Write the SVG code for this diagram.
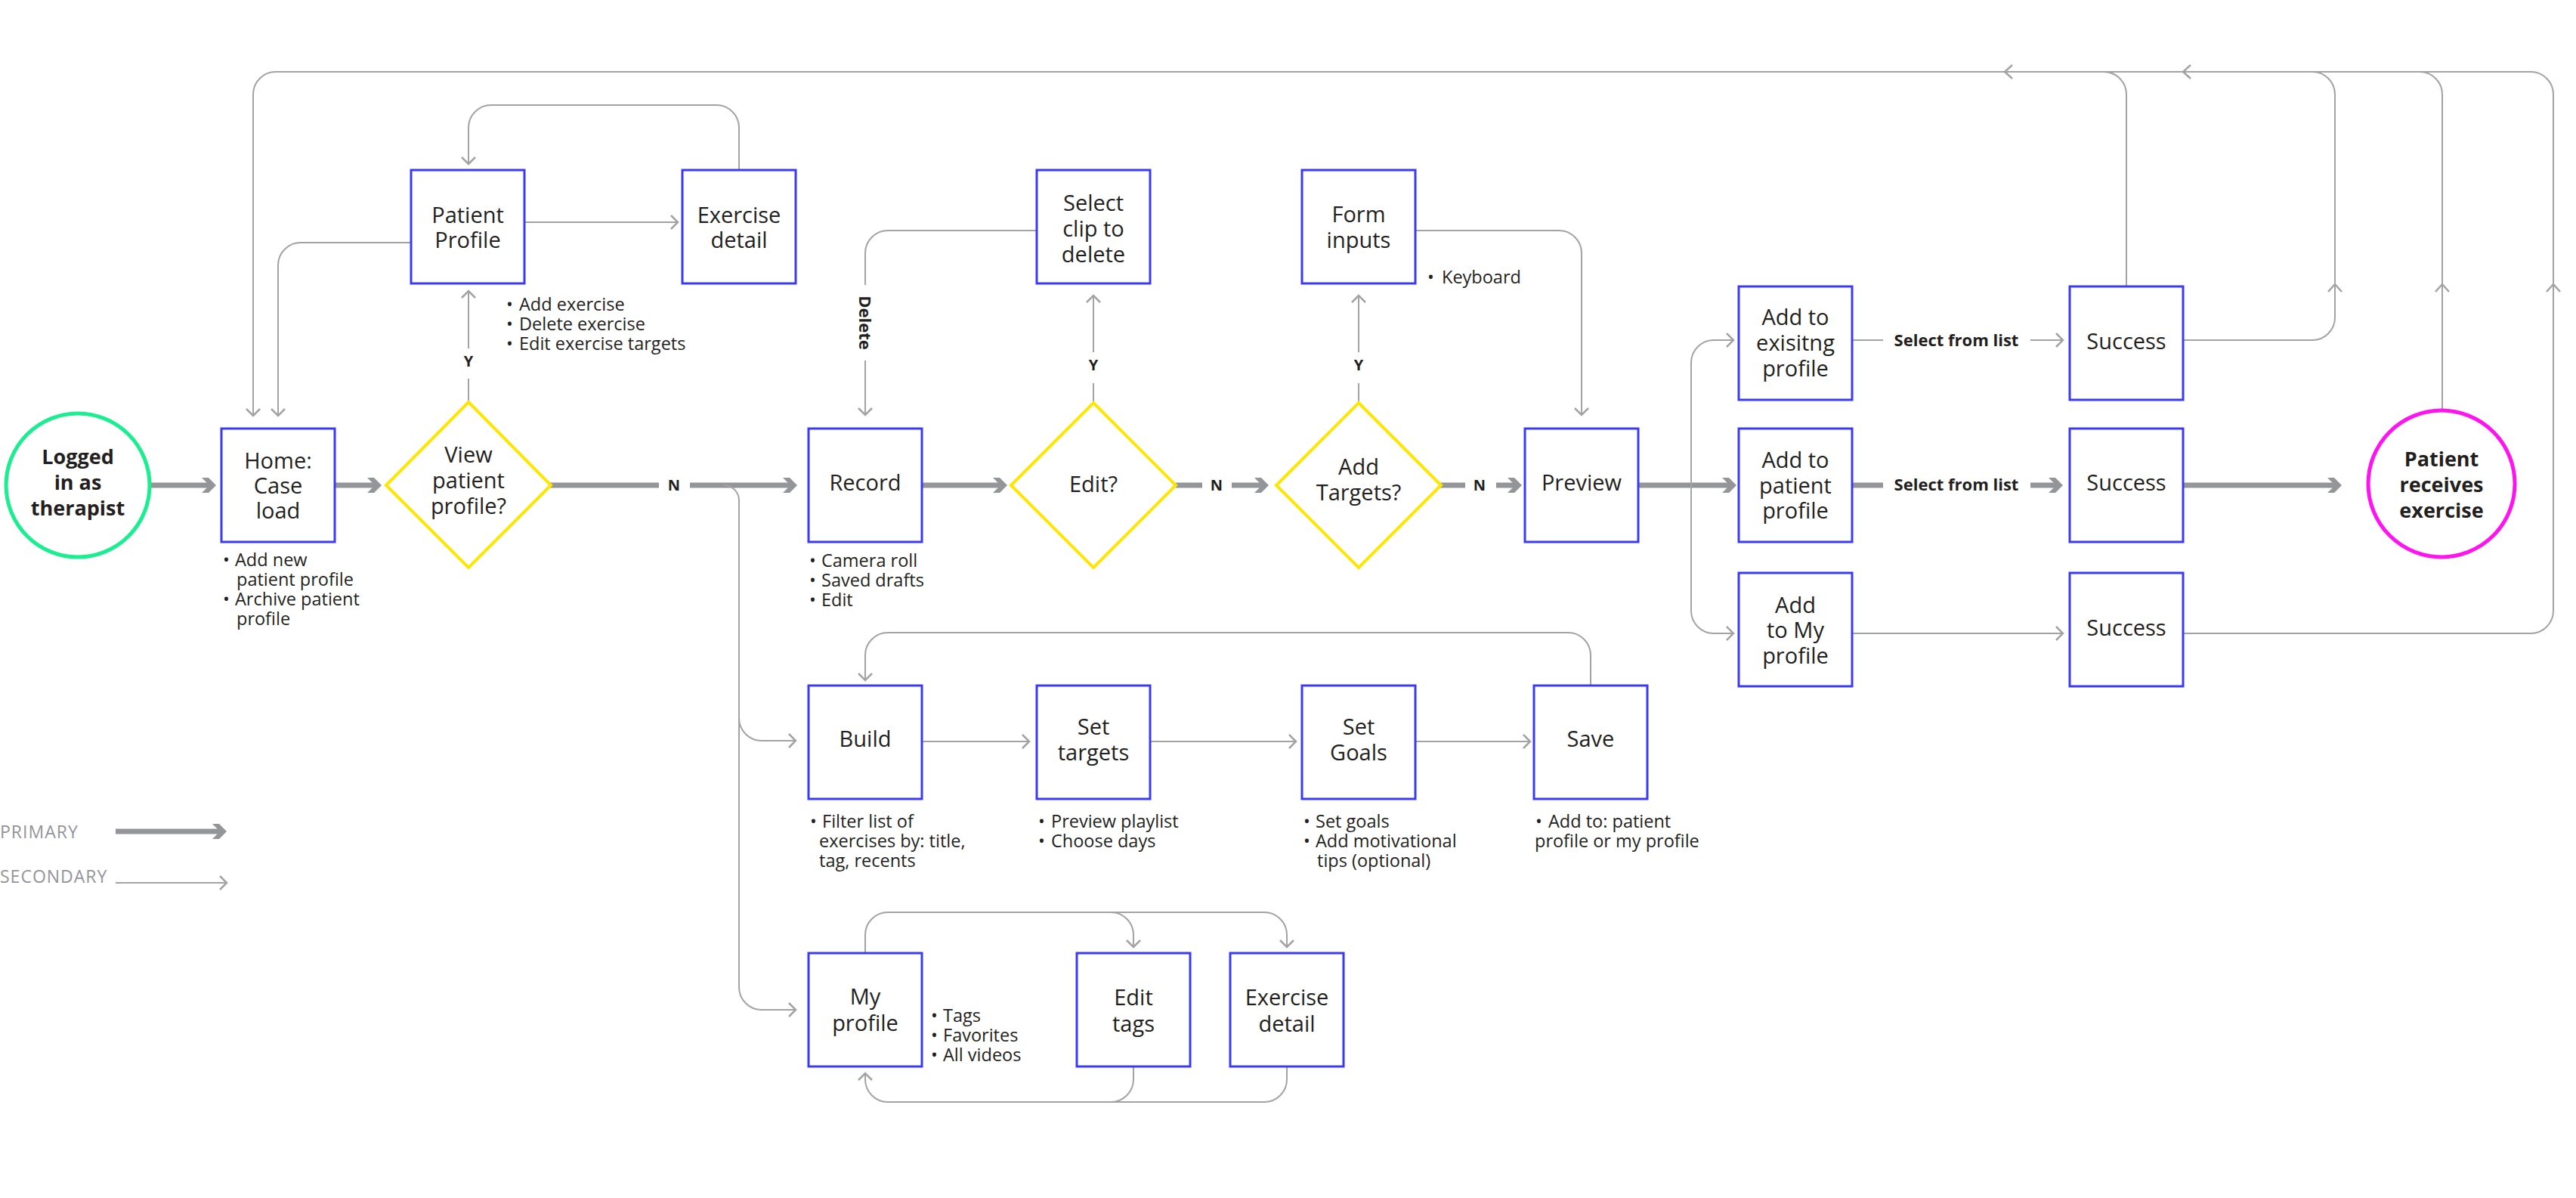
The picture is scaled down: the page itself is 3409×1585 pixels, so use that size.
<svg xmlns="http://www.w3.org/2000/svg" width="3409" height="1585" viewBox="0 0 3409 1585">
<style>
.bg{fill:#ffffff}
.box{fill:#ffffff;stroke:#3a3af4;stroke-width:3}
.dia{fill:#ffffff;stroke:#ffe600;stroke-width:4}
.start{fill:#ffffff;stroke:#1aee90;stroke-width:5}
.end{fill:#ffffff;stroke:#ff14f0;stroke-width:5}
.pri{fill:none;stroke:#939598;stroke-width:7}
.sec{fill:none;stroke:#a3a3a3;stroke-width:2}
.chev{fill:none;stroke:#a3a3a3;stroke-width:2.5}
.t{font-family:"Open Sans","Liberation Sans",sans-serif;font-size:29px;fill:#231f20;text-anchor:middle}
.tb{font-family:"Open Sans","Liberation Sans",sans-serif;font-size:27px;font-weight:700;fill:#231f20;text-anchor:middle}
.b{font-family:"Open Sans","Liberation Sans",sans-serif;font-size:23.5px;fill:#231f20}
.lbl{font-family:"Open Sans","Liberation Sans",sans-serif;font-size:20px;font-weight:700;fill:#231f20;text-anchor:middle}
.sel{font-family:"Open Sans","Liberation Sans",sans-serif;font-size:22px;font-weight:700;fill:#231f20;text-anchor:middle}
.leg{font-family:"Open Sans","Liberation Sans",sans-serif;font-size:23px;fill:#939598;letter-spacing:1px}
</style>
<defs>
<marker id="mp" markerUnits="userSpaceOnUse" markerWidth="30" markerHeight="30" viewBox="-15 -15 30 30" refX="0" refY="0" orient="auto">
<polygon points="6,0 -4,-10 -13,-10 -3,0 -13,10 -4,10" fill="#939598"/>
</marker>
<marker id="ms" markerUnits="userSpaceOnUse" markerWidth="30" markerHeight="30" viewBox="-15 -15 30 30" refX="0" refY="0" orient="auto">
<path d="M -9,-9 L 0,0 L -9,9" fill="none" stroke="#a3a3a3" stroke-width="2.5"/>
</marker>
</defs>
<rect class="bg" x="0" y="0" width="3409" height="1585"/>

<g id="connectors">
<!-- primary -->
<path class="pri" d="M 199,642 H 280" marker-end="url(#mp)"/>
<path class="pri" d="M 443,642 H 499" marker-end="url(#mp)"/>
<path class="pri" d="M 728,642 H 872"/>
<path class="pri" d="M 913,642 H 1049" marker-end="url(#mp)"/>
<path class="pri" d="M 1220,642 H 1327" marker-end="url(#mp)"/>
<path class="pri" d="M 1556,642 H 1591"/>
<path class="pri" d="M 1630,642 H 1673" marker-end="url(#mp)"/>
<path class="pri" d="M 1906,642 H 1939"/>
<path class="pri" d="M 1980,642 H 2008" marker-end="url(#mp)"/>
<path class="pri" d="M 2168,642 H 2292" marker-end="url(#mp)"/>
<path class="pri" d="M 2451,642 H 2492"/>
<path class="pri" d="M 2687,642 H 2724" marker-end="url(#mp)"/>
<path class="pri" d="M 2889,642 H 3093" marker-end="url(#mp)"/>
<!-- secondary -->
<path class="sec" d="M 2889,838 H 3349 A 30 30 0 0 0 3379 808 V 125 A 30 30 0 0 0 3349 95 H 365 A 30 30 0 0 0 335 125 V 550" marker-end="url(#ms)"/>
<path class="sec" d="M 2889,450 H 3060 A 30 30 0 0 0 3090 420 V 125 A 30 30 0 0 0 3060 95"/>
<path class="sec" d="M 3232,542 V 125 A 30 30 0 0 0 3202 95"/>
<path class="sec" d="M 2814,379 V 125 A 30 30 0 0 0 2784 95"/>
<path class="chev" d="M 2663,86 L 2653,95 L 2663,104"/>
<path class="chev" d="M 2899,86 L 2889,95 L 2899,104"/>
<path class="chev" d="M 3081,386 L 3090,376 L 3099,386"/>
<path class="chev" d="M 3223,386 L 3232,376 L 3241,386"/>
<path class="chev" d="M 3370,386 L 3379,376 L 3388,386"/>
<path class="sec" d="M 544,321 H 398 A 30 30 0 0 0 368 351 V 550" marker-end="url(#ms)"/>
<path class="sec" d="M 694,294 H 897" marker-end="url(#ms)"/>
<path class="sec" d="M 978,225 V 169 A 30 30 0 0 0 948 139 H 650 A 30 30 0 0 0 620 169 V 217" marker-end="url(#ms)"/>
<path class="sec" d="M 620,532 V 501"/>
<path class="sec" d="M 620,461 V 385" marker-end="url(#ms)"/>
<path class="sec" d="M 1372,305 H 1175 A 30 30 0 0 0 1145 335 V 377"/>
<path class="sec" d="M 1145,477 V 549" marker-end="url(#ms)"/>
<path class="sec" d="M 1447,533 V 507"/>
<path class="sec" d="M 1447,466 V 391" marker-end="url(#ms)"/>
<path class="sec" d="M 1798,533 V 507"/>
<path class="sec" d="M 1798,466 V 391" marker-end="url(#ms)"/>
<path class="sec" d="M 1873,305 H 2063 A 30 30 0 0 1 2093 335 V 549" marker-end="url(#ms)"/>
<path class="sec" d="M 958,642 A 20 20 0 0 1 978 662 V 950 A 30 30 0 0 0 1008 980 H 1053" marker-end="url(#ms)"/>
<path class="sec" d="M 978,940 V 1306 A 30 30 0 0 0 1008 1336 H 1053" marker-end="url(#ms)"/>
<path class="sec" d="M 1220,981 H 1362" marker-end="url(#ms)"/>
<path class="sec" d="M 1523,981 H 1715" marker-end="url(#ms)"/>
<path class="sec" d="M 1873,981 H 2025" marker-end="url(#ms)"/>
<path class="sec" d="M 2105,907 V 867 A 30 30 0 0 0 2075 837 H 1175 A 30 30 0 0 0 1145 867 V 900" marker-end="url(#ms)"/>
<path class="sec" d="M 1145,1261 V 1237 A 30 30 0 0 1 1175 1207 H 1673 A 30 30 0 0 1 1703 1237 V 1253" marker-end="url(#ms)"/>
<path class="sec" d="M 1470,1207 A 30 30 0 0 1 1500 1237 V 1253" marker-end="url(#ms)"/>
<path class="sec" d="M 1703,1411 V 1428 A 30 30 0 0 1 1673 1458 H 1175 A 30 30 0 0 1 1145 1428 V 1420" marker-end="url(#ms)"/>
<path class="sec" d="M 1500,1411 V 1428 A 30 30 0 0 1 1470 1458"/>
<path class="sec" d="M 2238,642 V 480 A 30 30 0 0 1 2268 450 H 2294" marker-end="url(#ms)"/>
<path class="sec" d="M 2238,642 V 808 A 30 30 0 0 0 2268 838 H 2294" marker-end="url(#ms)"/>
<path class="sec" d="M 2451,450 H 2492"/>
<path class="sec" d="M 2687,450 H 2730" marker-end="url(#ms)"/>
<path class="sec" d="M 2451,838 H 2730" marker-end="url(#ms)"/>
<!-- labels -->
<text class="lbl" x="892" y="649">N</text>
<text class="lbl" x="1610" y="649">N</text>
<text class="lbl" x="1958" y="649">N</text>
<text class="lbl" x="620" y="485">Y</text>
<text class="lbl" x="1447" y="490">Y</text>
<text class="lbl" x="1798" y="490">Y</text>
<text class="sel" transform="translate(1137,427) rotate(90)">Delete</text>
<text class="sel" x="2589" y="458">Select from list</text>
<text class="sel" x="2589" y="649">Select from list</text>
</g>

<g id="n-logged">
<circle class="start" cx="103" cy="642" r="95"/>
<text class="tb" x="103" y="614">Logged</text>
<text class="tb" x="103" y="648">in as</text>
<text class="tb" x="103" y="682">therapist</text>
</g>
<g id="n-home">
<rect class="box" x="293" y="567" width="150" height="150"/>
<text class="t" x="368" y="620">Home:</text>
<text class="t" x="368" y="653">Case</text>
<text class="t" x="368" y="686">load</text>
<text class="b" y="749"><tspan x="295">•</tspan><tspan x="311">Add new</tspan></text>
<text class="b" x="313" y="775">patient profile</text>
<text class="b" y="801"><tspan x="295">•</tspan><tspan x="311">Archive patient</tspan></text>
<text class="b" x="313" y="827">profile</text>
</g>
<g id="n-view">
<polygon class="dia" points="620,532 729,642 620,751 511,642"/>
<text class="t" x="620" y="612">View</text>
<text class="t" x="620" y="646">patient</text>
<text class="t" x="620" y="680">profile?</text>
</g>
<g id="n-patient-profile">
<rect class="box" x="544" y="225" width="150" height="150"/>
<text class="t" x="619" y="295">Patient</text>
<text class="t" x="619" y="328">Profile</text>
<text class="b" y="411"><tspan x="670">•</tspan><tspan x="687">Add exercise</tspan></text>
<text class="b" y="437"><tspan x="670">•</tspan><tspan x="687">Delete exercise</tspan></text>
<text class="b" y="463"><tspan x="670">•</tspan><tspan x="687">Edit exercise targets</tspan></text>
</g>
<g id="n-exercise-detail">
<rect class="box" x="903" y="225" width="150" height="150"/>
<text class="t" x="978" y="295">Exercise</text>
<text class="t" x="978" y="328">detail</text>
</g>
<g id="n-record">
<rect class="box" x="1070" y="567" width="150" height="150"/>
<text class="t" x="1145" y="649">Record</text>
<text class="b" y="750"><tspan x="1071">•</tspan><tspan x="1087">Camera roll</tspan></text>
<text class="b" y="776"><tspan x="1071">•</tspan><tspan x="1087">Saved drafts</tspan></text>
<text class="b" y="802"><tspan x="1071">•</tspan><tspan x="1087">Edit</tspan></text>
</g>
<g id="n-select-clip">
<rect class="box" x="1372" y="225" width="150" height="150"/>
<text class="t" x="1447" y="279">Select</text>
<text class="t" x="1447" y="313">clip to</text>
<text class="t" x="1447" y="347">delete</text>
</g>
<g id="n-edit">
<polygon class="dia" points="1447,533 1556,642 1447,751 1338,642"/>
<text class="t" x="1447" y="651">Edit?</text>
</g>
<g id="n-form-inputs">
<rect class="box" x="1723" y="225" width="150" height="150"/>
<text class="t" x="1798" y="294">Form</text>
<text class="t" x="1798" y="328">inputs</text>
<text class="b" y="375"><tspan x="1889">•</tspan><tspan x="1908">Keyboard</tspan></text>
</g>
<g id="n-add-targets">
<polygon class="dia" points="1798,533 1907,642 1798,751 1689,642"/>
<text class="t" x="1798" y="628">Add</text>
<text class="t" x="1798" y="662">Targets?</text>
</g>
<g id="n-preview">
<rect class="box" x="2018" y="567" width="150" height="150"/>
<text class="t" x="2093" y="649">Preview</text>
</g>
<g id="n-add-existing">
<rect class="box" x="2301" y="379" width="150" height="150"/>
<text class="t" x="2376" y="430">Add to</text>
<text class="t" x="2376" y="464">exisitng</text>
<text class="t" x="2376" y="498">profile</text>
</g>
<g id="n-add-patient">
<rect class="box" x="2301" y="567" width="150" height="150"/>
<text class="t" x="2376" y="619">Add to</text>
<text class="t" x="2376" y="653">patient</text>
<text class="t" x="2376" y="686">profile</text>
</g>
<g id="n-add-my">
<rect class="box" x="2301" y="758" width="150" height="150"/>
<text class="t" x="2376" y="811">Add</text>
<text class="t" x="2376" y="844">to My</text>
<text class="t" x="2376" y="878">profile</text>
</g>
<g id="n-success-1">
<rect class="box" x="2739" y="379" width="150" height="150"/>
<text class="t" x="2814" y="462">Success</text>
</g>
<g id="n-success-2">
<rect class="box" x="2739" y="567" width="150" height="150"/>
<text class="t" x="2814" y="649">Success</text>
</g>
<g id="n-success-3">
<rect class="box" x="2739" y="758" width="150" height="150"/>
<text class="t" x="2814" y="841">Success</text>
</g>
<g id="n-patient-receives">
<circle class="end" cx="3231" cy="640" r="97"/>
<text class="tb" x="3231" y="617">Patient</text>
<text class="tb" x="3231" y="651">receives</text>
<text class="tb" x="3231" y="685">exercise</text>
</g>
<g id="n-build">
<rect class="box" x="1070" y="907" width="150" height="150"/>
<text class="t" x="1145" y="988">Build</text>
<text class="b" y="1095"><tspan x="1072">•</tspan><tspan x="1088">Filter list of</tspan></text>
<text class="b" x="1084" y="1121">exercises by: title,</text>
<text class="b" x="1084" y="1147">tag, recents</text>
</g>
<g id="n-set-targets">
<rect class="box" x="1372" y="907" width="150" height="150"/>
<text class="t" x="1447" y="972">Set</text>
<text class="t" x="1447" y="1006">targets</text>
<text class="b" y="1095"><tspan x="1374">•</tspan><tspan x="1391">Preview playlist</tspan></text>
<text class="b" y="1121"><tspan x="1374">•</tspan><tspan x="1391">Choose days</tspan></text>
</g>
<g id="n-set-goals">
<rect class="box" x="1723" y="907" width="150" height="150"/>
<text class="t" x="1798" y="972">Set</text>
<text class="t" x="1798" y="1006">Goals</text>
<text class="b" y="1095"><tspan x="1725">•</tspan><tspan x="1741">Set goals</tspan></text>
<text class="b" y="1121"><tspan x="1725">•</tspan><tspan x="1741">Add motivational</tspan></text>
<text class="b" x="1743" y="1147">tips (optional)</text>
</g>
<g id="n-save">
<rect class="box" x="2030" y="907" width="150" height="150"/>
<text class="t" x="2105" y="988">Save</text>
<text class="b" y="1095"><tspan x="2032">•</tspan><tspan x="2049">Add to: patient</tspan></text>
<text class="b" x="2031" y="1121">profile or my profile</text>
</g>
<g id="n-my-profile">
<rect class="box" x="1070" y="1261" width="150" height="150"/>
<text class="t" x="1145" y="1329">My</text>
<text class="t" x="1145" y="1364">profile</text>
<text class="b" y="1352"><tspan x="1232">•</tspan><tspan x="1248">Tags</tspan></text>
<text class="b" y="1378"><tspan x="1232">•</tspan><tspan x="1248">Favorites</tspan></text>
<text class="b" y="1404"><tspan x="1232">•</tspan><tspan x="1248">All videos</tspan></text>
</g>
<g id="n-edit-tags">
<rect class="box" x="1425" y="1261" width="150" height="150"/>
<text class="t" x="1500" y="1330">Edit</text>
<text class="t" x="1500" y="1365">tags</text>
</g>
<g id="n-exercise-detail-2">
<rect class="box" x="1628" y="1261" width="150" height="150"/>
<text class="t" x="1703" y="1330">Exercise</text>
<text class="t" x="1703" y="1365">detail</text>
</g>
<g id="legend">
<text class="leg" x="0" y="1109">PRIMARY</text>
<path class="pri" d="M 153,1100 H 294" marker-end="url(#mp)"/>
<text class="leg" x="0" y="1168">SECONDARY</text>
<path class="sec" d="M 153,1168 H 300" marker-end="url(#ms)"/>
</g>
</svg>
